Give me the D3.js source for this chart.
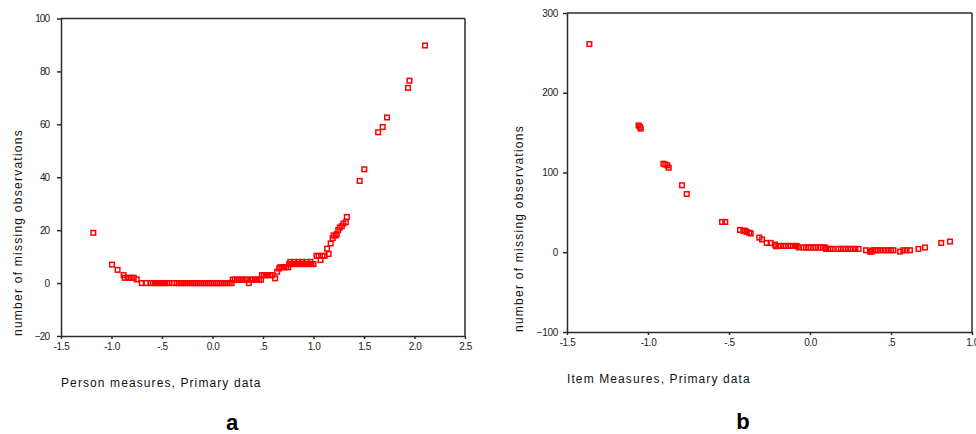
<!DOCTYPE html>
<html><head><meta charset="utf-8">
<script src="https://cdn.jsdelivr.net/npm/d3@7"></script>
<style>
body{margin:0;background:#fff}
svg{display:block}
text{font-family:"Liberation Sans",Arial,sans-serif}
</style>
</head><body><svg id="chart" width="976" height="434"></svg>
<script>
// ---- Panel a: Person measures ----
const personX = [-1.18, -0.995, -0.94, -0.88, -0.87, -0.84, -0.81, -0.78, -0.75,
  -0.70, -0.66, -0.61, -0.59, -0.57, -0.55, -0.53, -0.51, -0.49, -0.47, -0.45, -0.43,
  -0.38, -0.355, -0.33, -0.31, -0.29, -0.27, -0.25, -0.23, -0.21, -0.19, -0.17, -0.15,
  -0.13, -0.11, -0.09, -0.07, -0.05, -0.03, -0.01, 0.01, 0.03, 0.05, 0.07, 0.09, 0.11,
  0.13, 0.15, 0.17, 0.19,
  0.20, 0.22, 0.24, 0.26, 0.28, 0.30, 0.32, 0.34, 0.36, 0.38, 0.40, 0.42, 0.44, 0.46, 0.48,
  0.49, 0.51, 0.53, 0.55, 0.57, 0.59, 0.62, 0.64, 0.66,
  0.67, 0.69, 0.71, 0.73, 0.75,
  0.76, 0.78, 0.80, 0.82, 0.84, 0.86, 0.88, 0.90, 0.92, 0.94, 0.96, 0.98, 1.00,
  0.77, 0.81, 0.85, 0.89, 0.93, 0.97,
  1.03, 1.05, 1.07, 1.09, 1.11, 1.135, 1.15, 1.17, 1.19, 1.20, 1.22, 1.23, 1.245, 1.26,
  1.28, 1.295, 1.32, 1.33, 1.457, 1.503, 1.64, 1.685, 1.728, 1.936, 1.95, 2.104];
const personY = [19, 7, 5, 3, 2, 2, 2, 2, 1.4,
  0, 0, 0, 0, 0, 0, 0, 0, 0, 0, 0, 0,
  0, 0, 0, 0, 0, 0, 0, 0, 0, 0, 0, 0,
  0, 0, 0, 0, 0, 0, 0, 0, 0, 0, 0, 0, 0,
  0, 0, 0, 0,
  1.3, 1.3, 1.3, 1.3, 1.3, 1.3, 1.3, 1.3, 0, 1.3, 1.3, 1.3, 1.3, 1.3, 1.3,
  3, 3, 3, 3, 3, 3, 1.8, 4.3, 5.5,
  6, 6, 6, 6, 6,
  7.2, 7.2, 7.2, 7.2, 7.2, 7.2, 7.2, 7.2, 7.2, 7.2, 7.2, 7.2, 7.2,
  8, 8, 8, 8, 8, 8,
  10.3, 10.3, 8.7, 10.3, 10.3, 13, 11, 15, 17, 18, 18, 18.5, 20, 21,
  21.5, 22.5, 23, 25, 38.6, 43, 57, 59, 62.6, 73.8, 76.5, 89.8];
const personXTicks = [-1.5, -1, -0.5, 0, 0.5, 1, 1.5, 2, 2.5];
const personXTickLabels = ["-1.5", "-1.0", "-.5", "0.0", ".5", "1.0", "1.5", "2.0", "2.5"];
const personYTicks = [-20, 0, 20, 40, 60, 80, 100];

// ---- Panel b: Item measures ----
const itemX = [-1.362, -1.058, -1.05, -1.045, -0.905, -0.893, -0.88, -0.872, -0.79, -0.761,
  -0.543, -0.523, -0.432, -0.412, -0.40, -0.39, -0.375, -0.366, -0.313, -0.296, -0.267,
  -0.243, -0.216, -0.21,
  -0.195, -0.18, -0.165, -0.15, -0.135, -0.12, -0.105, -0.09, -0.082, -0.07,
  -0.04, -0.025, -0.01, 0.005, 0.02, 0.035, 0.05, 0.065, 0.08, 0.093,
  0.099, 0.113, 0.127, 0.14,
  0.175, 0.19, 0.205, 0.22, 0.235, 0.25, 0.265, 0.28, 0.30,
  0.346, 0.37, 0.38, 0.39, 0.405, 0.42, 0.44, 0.46, 0.48, 0.50, 0.515,
  0.556, 0.576, 0.596, 0.617, 0.669, 0.71, 0.81, 0.864];
const itemY = [261, 159, 157, 155, 111, 110, 109, 106, 84, 73,
  38, 38, 28, 27, 27, 25.5, 24.5, 23.5, 18.4, 16, 11.7,
  11.7, 9.6, 7.5,
  7.9, 7.9, 7.9, 7.9, 7.9, 7.9, 7.9, 7.9, 7.9, 6,
  6, 6, 6, 6, 6, 6, 6, 6, 6, 6,
  4.2, 4.2, 4.2, 4.2,
  4.2, 4.2, 4.2, 4.2, 4.2, 4.2, 4.2, 4.2, 4.2,
  2.5, 0.8, 0.8, 2.5, 2.5, 2.5, 2.5, 2.5, 2.5, 2.5, 2.5,
  0.8, 2.5, 2.5, 2.5, 4.2, 5.9, 11.7, 13.4];
const itemXTicks = [-1.5, -1, -0.5, 0, 0.5, 1];
const itemXTickLabels = ["-1.5", "-1.0", "-.5", "0.0", ".5", "1.0"];
const itemYTicks = [-100, 0, 100, 200, 300];

const svg = d3.select("#chart");
const axisColor = "#2b2b2b";

function panel(o) {
  const g = svg.append("g");
  const x = d3.scaleLinear().domain(o.xDomain).range(o.xRange);
  const y = d3.scaleLinear().domain(o.yDomain).range(o.yRange);

  // frame top / right
  g.append("line").attr("x1", o.xRange[0]).attr("x2", o.xRange[1])
    .attr("y1", o.yRange[1]).attr("y2", o.yRange[1])
    .attr("stroke", axisColor).attr("stroke-width", 1.5);
  g.append("line").attr("x1", o.xRange[1]).attr("x2", o.xRange[1])
    .attr("y1", o.yRange[1]).attr("y2", o.yRange[0])
    .attr("stroke", axisColor).attr("stroke-width", 1.5);

  const xa = g.append("g").attr("transform", `translate(0,${o.yRange[0]})`)
    .call(d3.axisBottom(x).tickValues(o.xTicks)
      .tickFormat((d, i) => o.xTickLabels[i]).tickSize(3).tickSizeOuter(0).tickPadding(4));
  const ya = g.append("g").attr("transform", `translate(${o.xRange[0]},0)`)
    .call(d3.axisLeft(y).tickValues(o.yTicks).tickFormat(d3.format("d"))
      .tickSize(4).tickSizeOuter(0).tickPadding(o.yPad));
  [xa, ya].forEach(a => {
    a.select(".domain").attr("stroke", axisColor).attr("stroke-width", 1.5);
    a.selectAll(".tick line").attr("stroke", axisColor).attr("stroke-width", 1.5);
    a.selectAll("text").attr("fill", "#222").style("font-size", "10px")
      .style("font-family", '"Liberation Sans", Arial, sans-serif');
  });
  ya.selectAll("text").style("letter-spacing", o.yLS);
  xa.selectAll("text").style("letter-spacing", "-0.4px");

  // points
  g.append("g").selectAll("rect").data(o.xs.map((v, i) => [v, o.ys[i]])).join("rect")
    .attr("x", d => x(d[0]) - 2.3).attr("y", d => y(d[1]) - 2.3)
    .attr("width", 4.6).attr("height", 4.6)
    .attr("fill", "none").attr("stroke", "#ff0000").attr("stroke-width", 1.5);

  // x title
  g.append("text").attr("x", o.xRange[0]).attr("y", o.xTitleY)
    .style("font-size", "12px").style("letter-spacing", "1.1px").attr("fill", "#111")
    .text(o.xTitle);
  // y title
  g.append("text").attr("transform", `translate(${o.yTitleX},${o.yRange[0]}) rotate(-90)`)
    .style("font-size", "12px").style("letter-spacing", "1.25px").attr("fill", "#111")
    .text("number of missing observations");
  // panel letter
  g.append("text").attr("x", o.letterX).attr("y", o.letterY).attr("text-anchor", "middle")
    .style("font-size", "22px").style("font-weight", "bold").attr("fill", "#000")
    .text(o.letter);
}

panel({
  xDomain: [-1.5, 2.5], xRange: [61, 465],
  yDomain: [-20, 100], yRange: [336, 18.5],
  xTicks: personXTicks, xTickLabels: personXTickLabels, yTicks: personYTicks,
  xs: personX, ys: personY, yPad: 8, yLS: "-1px",
  xTitle: "Person measures, Primary data", xTitleY: 387, yTitleX: 22,
  letter: "a", letterX: 232, letterY: 430
});
panel({
  xDomain: [-1.5, 1.0], xRange: [567, 972],
  yDomain: [-100, 300], yRange: [332, 13],
  xTicks: itemXTicks, xTickLabels: itemXTickLabels, yTicks: itemYTicks,
  xs: itemX, ys: itemY, yPad: 5, yLS: "-0.3px",
  xTitle: "Item Measures, Primary data", xTitleY: 383, yTitleX: 523,
  letter: "b", letterX: 743, letterY: 429
});
</script>
</body></html>
